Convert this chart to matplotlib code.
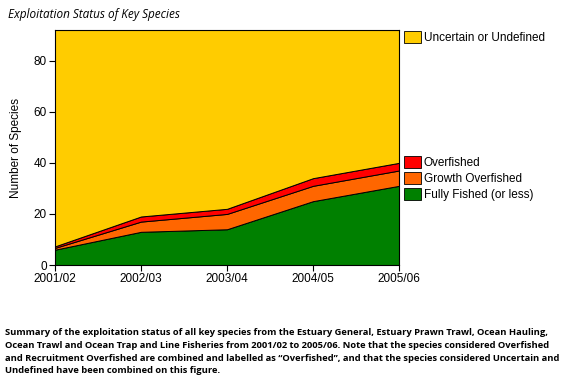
import numpy as np
import matplotlib.pyplot as plt
from matplotlib.patches import Patch

years = ['2001/02', '2002/03', '2003/04', '2004/05', '2005/06']
fully = [6, 13, 14, 25, 31]
growth = [0.7, 4, 6, 6, 6]
over = [0.6, 2, 2, 3, 3]
total = 92
uncertain = [total - f - g - o for f, g, o in zip(fully, growth, over)]

colors = ['#008000', '#FF6600', '#FF0000', '#FFCC00']

fig = plt.figure(figsize=(5.68, 3.8), dpi=100)
ax = fig.add_axes([0.0968, 0.3026, 0.6057, 0.6184])

x = np.arange(len(years))
ax.stackplot(x, fully, growth, over, uncertain, colors=colors,
             edgecolor='black', linewidth=0.7)

ax.set_xlim(0, 4)
ax.set_ylim(0, total)
ax.set_xticks(x)
ax.set_xticklabels(years, fontsize=8.5, family='Liberation Sans')
ax.set_yticks([0, 20, 40, 60, 80])
ax.set_yticklabels(['0', '20', '40', '60', '80'], fontsize=8.5, family='Liberation Sans')
ax.tick_params(length=4, width=0.8, pad=2)
ax.set_ylabel('Number of Species', fontsize=8.5, family='Liberation Sans', labelpad=8)
for s in ax.spines.values():
    s.set_linewidth(0.8)

# legends
leg1 = ax.legend(handles=[Patch(facecolor=colors[3], edgecolor='black', linewidth=0.6,
                                label='Uncertain or Undefined')],
                 loc='upper left', bbox_to_anchor=(1.0, 1.019), frameon=False,
                 prop={'family': 'Liberation Sans', 'size': 8.5},
                 handlelength=1.4, handleheight=1.2, handletextpad=0.25, borderaxespad=0.05)
ax.add_artist(leg1)
ax.legend(handles=[Patch(facecolor=c, edgecolor='black', linewidth=0.6, label=l)
                   for c, l in zip(colors[2::-1], ['Overfished', 'Growth Overfished',
                                                   'Fully Fished (or less)'])],
          loc='upper left', bbox_to_anchor=(1.0, 0.485), frameon=False,
          prop={'family': 'Liberation Sans', 'size': 8.5},
          handlelength=1.4, handleheight=1.2, handletextpad=0.25, labelspacing=0.25,
          borderaxespad=0.05)

fig.text(0.014, 0.962, 'Exploitation Status of Key Species', fontsize=8.5,
         style='italic', family='Open Sans', va='center')

caption = ('Summary of the exploitation status of all key species from the Estuary General, Estuary Prawn Trawl, Ocean Hauling,\n'
           'Ocean Trawl and Ocean Trap and Line Fisheries from 2001/02 to 2005/06. Note that the species considered Overfished\n'
           'and Recruitment Overfished are combined and labelled as \u201cOverfished\u201d, and that the species considered Uncertain and\n'
           'Undefined have been combined on this figure.')
fig.text(0.009, 0.137, caption, fontsize=6.75, fontweight='bold', family='Open Sans',
         va='top', linespacing=1.55)

fig.savefig('out.png', dpi=100)
